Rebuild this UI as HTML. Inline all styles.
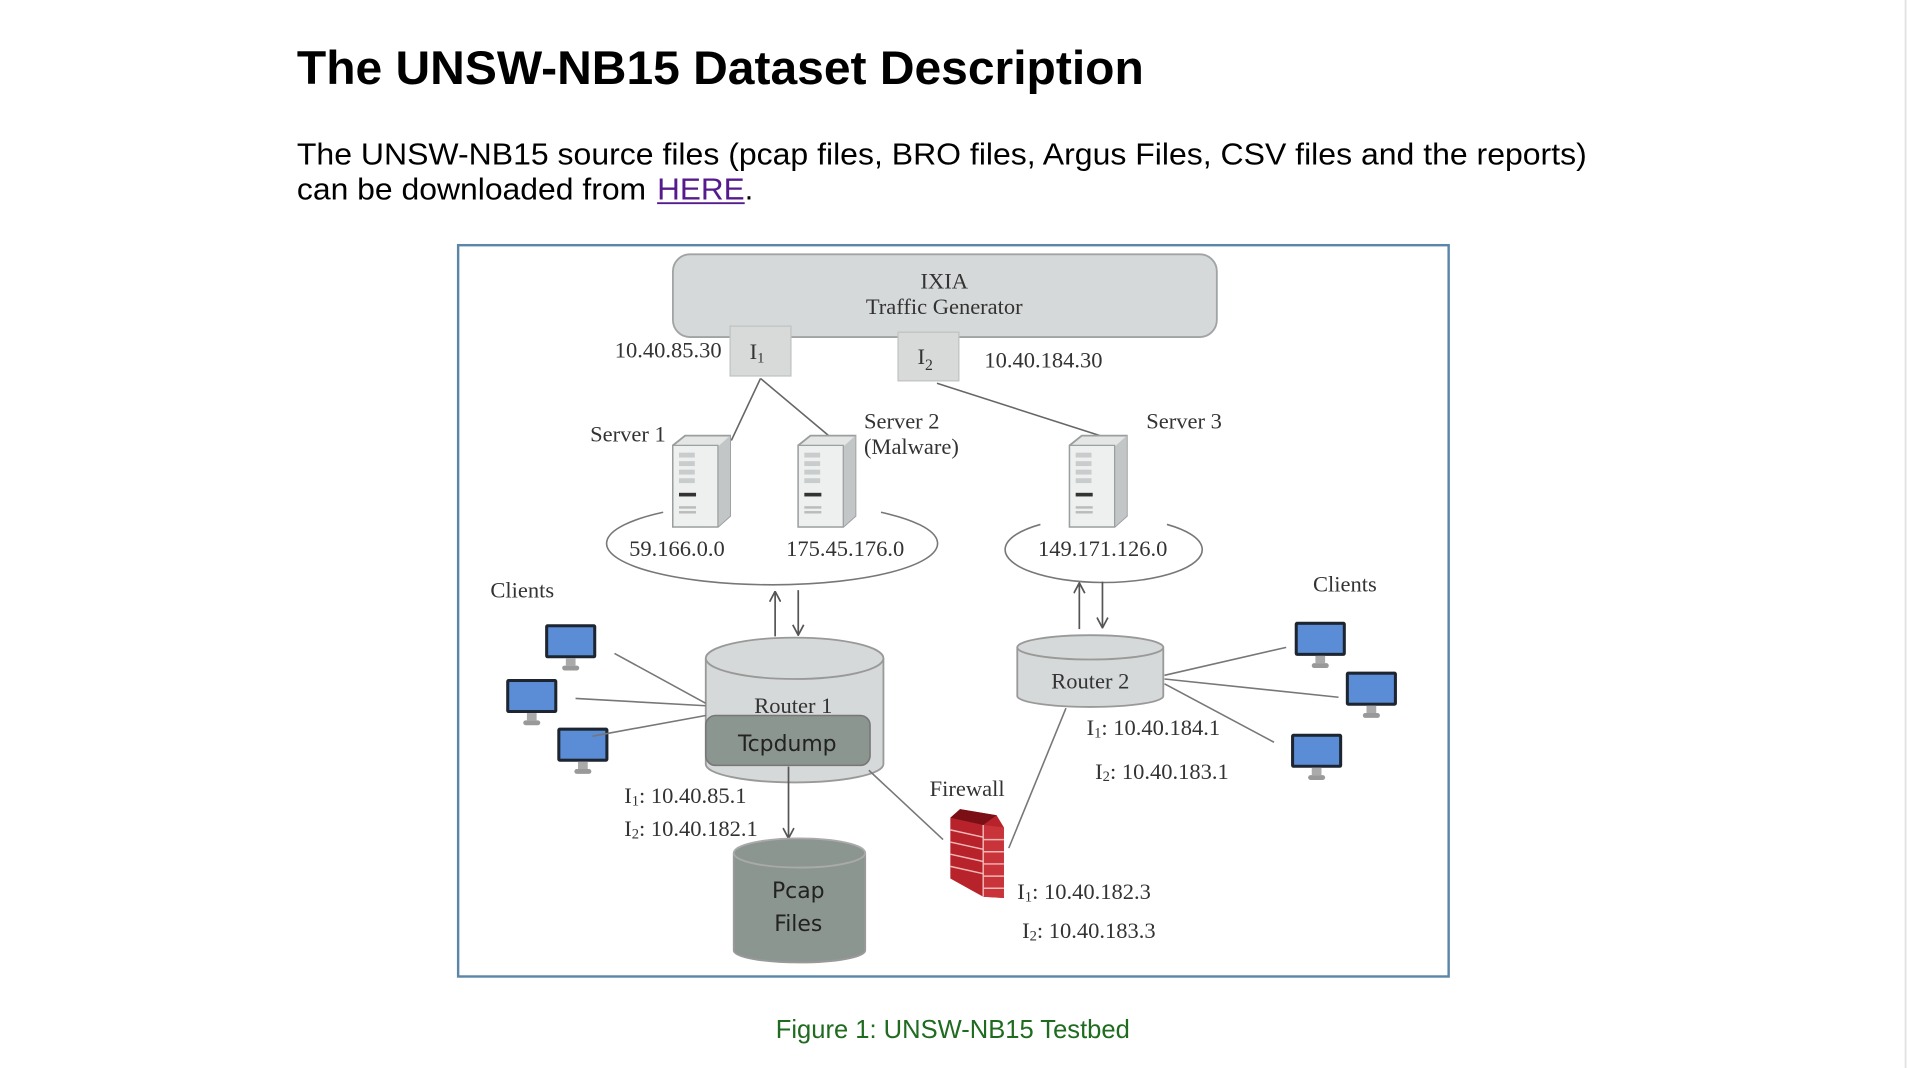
<!DOCTYPE html>
<html><head><meta charset="utf-8"><style>
html,body{margin:0;padding:0;background:#fff;width:1908px;height:1068px;overflow:hidden}
svg{display:block}
.s{font-family:"Liberation Serif",serif;fill:#333;font-size:18.5px}
</style></head><body>
<svg width="1908" height="1068" viewBox="0 0 1568 877.7" preserveAspectRatio="none" xmlns="http://www.w3.org/2000/svg">
<defs>
<g id="srv">
 <path d="M0,8 L10,0 L47,0 L47,66 L37,75 L0,75 Z" fill="#e4e6e6" stroke="#9a9e9e" stroke-width="1.5"/>
 <path d="M37,9 L47,0 L47,66 L37,75 Z" fill="#c2c6c6"/>
 <rect x="0" y="8" width="37" height="67" fill="#eef0f0" stroke="#9a9e9e" stroke-width="1"/>
 <g fill="#c8cccc"><rect x="5" y="14" width="13" height="4"/><rect x="5" y="21" width="13" height="4"/><rect x="5" y="28" width="13" height="4"/><rect x="5" y="35" width="13" height="4"/></g>
 <rect x="5" y="47" width="14" height="3" fill="#333"/>
 <rect x="5" y="58" width="14" height="2" fill="#bbb"/><rect x="5" y="62" width="14" height="2" fill="#bbb"/>
</g>
<g id="mon">
 <rect x="0" y="0" width="42" height="28" rx="2" fill="#1d2530"/>
 <rect x="2.5" y="2.5" width="37" height="23" fill="#5b8cd6"/>
 <rect x="17" y="28" width="8" height="6" fill="#aaa"/>
 <rect x="14" y="34" width="14" height="4" rx="2" fill="#999"/>
</g>
<marker id="ah" viewBox="0 0 10 10" refX="9.5" refY="5" markerWidth="10" markerHeight="10" orient="auto" markerUnits="userSpaceOnUse"><path d="M1,0.5 L9.5,5 L1,9.5" fill="none" stroke="#555" stroke-width="1.4"/></marker>
</defs>

<text x="244" y="69" font-family="Liberation Sans,sans-serif" font-weight="bold" font-size="39" fill="#000" textLength="696" lengthAdjust="spacingAndGlyphs">The UNSW-NB15 Dataset Description</text>
<text x="244" y="135" font-family="Liberation Sans,sans-serif" font-size="25" fill="#000" textLength="1060" lengthAdjust="spacingAndGlyphs">The UNSW-NB15 source files (pcap files, BRO files, Argus Files, CSV files and the reports)</text>
<text x="244" y="164" font-family="Liberation Sans,sans-serif" font-size="25" fill="#000" textLength="287" lengthAdjust="spacingAndGlyphs">can be downloaded from</text>
<text x="540" y="164" font-family="Liberation Sans,sans-serif" font-size="25" fill="#551a8b" textLength="72" lengthAdjust="spacingAndGlyphs">HERE</text>
<line x1="540" y1="167" x2="612" y2="167" stroke="#551a8b" stroke-width="1.6"/>
<text x="612" y="164" font-family="Liberation Sans,sans-serif" font-size="25" fill="#000">.</text>

<rect x="376.5" y="201.5" width="814" height="601" fill="#fff" stroke="#5b86aa" stroke-width="2"/>

<!-- IXIA -->
<rect x="553" y="209" width="447" height="68" rx="14" fill="#d6d9d9" stroke="#a0a4a4" stroke-width="1.5"/>
<text class="s" x="776" y="237" text-anchor="middle">IXIA</text>
<text class="s" x="776" y="258" text-anchor="middle">Traffic Generator</text>
<rect x="600" y="268" width="50" height="41" fill="#d8dada" stroke="#c0c2c2"/>
<rect x="738" y="273" width="50" height="40" fill="#d8dada" stroke="#c0c2c2"/>
<text class="s" x="616" y="295" font-size="19">I<tspan font-size="12" dy="3">1</tspan></text>
<text class="s" x="754" y="299" font-size="21">I<tspan font-size="13" dy="5">2</tspan></text>
<text class="s" x="593" y="294" text-anchor="end">10.40.85.30</text>
<text class="s" x="809" y="302">10.40.184.30</text>

<g stroke="#666" stroke-width="1.3" fill="none">
 <line x1="625" y1="311" x2="601" y2="362"/>
 <line x1="625" y1="311" x2="681" y2="358"/>
 <line x1="770" y1="315" x2="904" y2="358"/>
</g>
<text class="s" x="485" y="363">Server 1</text>
<text class="s" x="710" y="352">Server 2</text>
<text class="s" x="710" y="373">(Malware)</text>
<text class="s" x="942" y="352">Server 3</text>

<use href="#srv" x="553" y="358"/>
<use href="#srv" x="656" y="358"/>
<use href="#srv" x="879" y="358"/>

<g stroke="#777" stroke-width="1.3" fill="none">
 <path d="M 545,421 A 136 34 0 1 0 724,421"/>
 <path d="M 855,431 A 81 27 0 1 0 959,431"/>
</g>
<text class="s" x="517" y="457">59.166.0.0</text>
<text class="s" x="646" y="457">175.45.176.0</text>
<text class="s" x="853" y="457">149.171.126.0</text>

<g stroke="#555" stroke-width="1.4" fill="none">
 <line x1="637" y1="523" x2="637" y2="486" marker-end="url(#ah)"/>
 <line x1="656" y1="485" x2="656" y2="522" marker-end="url(#ah)"/>
 <line x1="887" y1="517" x2="887" y2="479" marker-end="url(#ah)"/>
 <line x1="906" y1="478" x2="906" y2="516" marker-end="url(#ah)"/>
</g>

<!-- Router 1 -->
<path d="M580,541 L580,628 A73 15 0 0 0 726,628 L726,541" fill="#d6d9d9" stroke="#999" stroke-width="1.5"/>
<ellipse cx="653" cy="541" rx="73" ry="17" fill="#d6d9d9" stroke="#999" stroke-width="1.5"/>
<text class="s" x="652" y="586" text-anchor="middle">Router 1</text>
<rect x="580" y="588" width="135" height="41" rx="8" fill="#8c9690" stroke="#777" stroke-width="1.3"/>
<text x="647" y="617" text-anchor="middle" font-family="DejaVu Sans,sans-serif" font-size="18" fill="#222">Tcpdump</text>

<!-- Router 2 -->
<path d="M836,532 L836,572 A60 9 0 0 0 956,572 L956,532" fill="#d6d9d9" stroke="#999" stroke-width="1.5"/>
<ellipse cx="896" cy="532" rx="60" ry="10" fill="#d6d9d9" stroke="#999" stroke-width="1.5"/>
<text class="s" x="896" y="566" text-anchor="middle">Router 2</text>

<!-- clients -->
<text class="s" x="403" y="491">Clients</text>
<text class="s" x="1079" y="486">Clients</text>
<use href="#mon" x="448" y="513"/>
<use href="#mon" x="416" y="558"/>
<use href="#mon" x="458" y="598"/>
<use href="#mon" x="1064" y="511"/>
<use href="#mon" x="1106" y="552"/>
<use href="#mon" x="1061" y="603"/>
<g stroke="#777" stroke-width="1.3">
 <line x1="505" y1="537" x2="580" y2="578"/>
 <line x1="473" y1="574" x2="580" y2="580"/>
 <line x1="487" y1="605" x2="580" y2="588"/>
 <line x1="957" y1="555" x2="1057" y2="532"/>
 <line x1="957" y1="558" x2="1100" y2="573"/>
 <line x1="957" y1="562" x2="1047" y2="610"/>
 <line x1="714" y1="633" x2="775" y2="690"/>
 <line x1="829" y1="697" x2="876" y2="582"/>
</g>
<text class="s" x="893" y="604">I<tspan font-size="12" dy="2">1</tspan><tspan dy="-2">: 10.40.184.1</tspan></text>
<text class="s" x="900" y="640">I<tspan font-size="12" dy="2">2</tspan><tspan dy="-2">: 10.40.183.1</tspan></text>

<line x1="648" y1="630" x2="648" y2="689" stroke="#555" stroke-width="1.4" marker-end="url(#ah)"/>
<text class="s" x="513" y="660">I<tspan font-size="12" dy="2">1</tspan><tspan dy="-2">: 10.40.85.1</tspan></text>
<text class="s" x="513" y="687">I<tspan font-size="12" dy="2">2</tspan><tspan dy="-2">: 10.40.182.1</tspan></text>

<!-- Pcap -->
<path d="M603,701 L603,781 A54 10 0 0 0 711,781 L711,701" fill="#8c9690" stroke="#999" stroke-width="1.5"/>
<ellipse cx="657" cy="701" rx="54" ry="12" fill="#8c9690" stroke="#aaa" stroke-width="1.5"/>
<text x="656" y="738" text-anchor="middle" font-family="DejaVu Sans,sans-serif" font-size="18" fill="#222">Pcap</text>
<text x="656" y="765" text-anchor="middle" font-family="DejaVu Sans,sans-serif" font-size="18" fill="#222">Files</text>

<!-- Firewall -->
<text class="s" x="764" y="654">Firewall</text>
<path d="M781,672 L789,665 L819,670 L825,680 L825,738 L808,737 L781,722 Z" fill="#b8232b"/>
<path d="M781,672 L789,665 L819,670 L808,678 Z" fill="#7a1015"/>
<path d="M808,678 L825,680 L825,738 L808,737 Z" fill="#c8343a"/>
<g stroke="#f2b8b8" stroke-width="1.2">
 <line x1="781" y1="682" x2="808" y2="688"/><line x1="781" y1="692" x2="808" y2="698"/><line x1="781" y1="702" x2="808" y2="708"/><line x1="781" y1="712" x2="808" y2="718"/>
 <line x1="808" y1="690" x2="825" y2="690"/><line x1="808" y1="700" x2="825" y2="700"/><line x1="808" y1="710" x2="825" y2="710"/><line x1="808" y1="720" x2="825" y2="720"/><line x1="808" y1="730" x2="825" y2="730"/>
 <line x1="808" y1="678" x2="808" y2="737"/>
</g>
<text class="s" x="836" y="739">I<tspan font-size="12" dy="2">1</tspan><tspan dy="-2">: 10.40.182.3</tspan></text>
<text class="s" x="840" y="771">I<tspan font-size="12" dy="2">2</tspan><tspan dy="-2">: 10.40.183.3</tspan></text>

<text x="783" y="853" text-anchor="middle" font-family="Liberation Sans,sans-serif" font-size="21" fill="#1f6b1f">Figure 1: UNSW-NB15 Testbed</text>
<line x1="1566" y1="0" x2="1566" y2="878" stroke="#e2e2e2" stroke-width="1.5"/>
</svg>
</body></html>
